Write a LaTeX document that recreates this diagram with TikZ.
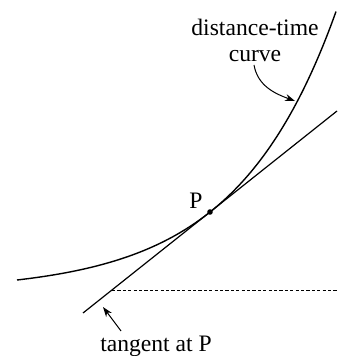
\documentclass[tikz,border=0pt]{standalone}
\usepackage{fontspec}
\setmainfont{Liberation Serif}
\usetikzlibrary{arrows.meta}
\begin{document}
\begin{tikzpicture}[x=0.5pt,y=-0.5pt,
  curvestyle/.style={line width=0.7pt},
  lbl/.style={font=\fontsize{11.8}{13}\selectfont, inner sep=0pt, align=center},
  pointer/.style={line width=0.5pt, -{Stealth[length=5pt,width=3.5pt]}}]
\useasboundingbox (0,0) rectangle (337,356);
% curve
\draw[curvestyle] plot[domain=17:336, samples=120] (\x, {280-11.55*(exp(0.01*(\x-17))-1)});
% tangent
\coordinate (P) at (210,212);
\coordinate (T1) at (83,313);
\coordinate (T2) at (337,111);
\coordinate (D1) at (112,290);
\coordinate (D2) at (337,290);
\draw[curvestyle, line width=0.6pt] (T1) -- (T2);
\draw[line width=0.5pt, dash pattern=on 1.6pt off 1.1pt] (D1) -- (D2);
\fill (P) circle (1.4pt);
\node[lbl] (plab) at (196,201) {P};
% labels
\node[lbl] (clab) at (255,40) {distance-time\\curve};
\coordinate (ca) at (254,65);
\coordinate (cb) at (295,101);
\draw[pointer] (ca) to[out=-80, in=160] (cb);
\node[lbl] (tlab) at (156,346) {tangent at P};
\coordinate (ta) at (121,331);
\coordinate (tb) at (103,307);
\draw[pointer] (ta) -- (tb);
\end{tikzpicture}
\end{document}
